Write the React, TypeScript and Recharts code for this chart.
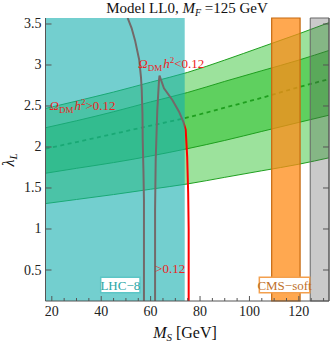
import React from 'react';
import { ComposedChart, Area, Line, XAxis, YAxis, ReferenceArea, ReferenceDot } from 'recharts';

const SERIF = '"Liberation Serif", "DejaVu Serif", serif';

// M_S grid (GeV) for the lambda_L bands
const msGrid = [17.5, 30, 45, 60, 75, 90, 105, 120, 132.5];
const outerHi = [2.47, 2.56, 2.67, 2.79, 2.91, 3.06, 3.22, 3.38, 3.52];
const innerHi = [2.235, 2.32, 2.43, 2.55, 2.665, 2.8, 2.93, 3.06, 3.18];
const central = [1.98, 2.06, 2.16, 2.26, 2.36, 2.48, 2.6, 2.73, 2.83];
const innerLo = [1.68, 1.74, 1.81, 1.89, 1.98, 2.08, 2.19, 2.3, 2.39];
const outerLo = [1.31, 1.36, 1.42, 1.485, 1.55, 1.63, 1.71, 1.79, 1.87];

// relic density contours (Omega h^2 = 0.12)
const contourAms = [50.7, 52.3, 53.7, 55.4, 56.1, 56.4, 56.7, 56.8, 57.1, 57.3, 57.3];
const contourAlam = [3.573, 3.45, 3.3, 3.06, 2.85, 2.7, 2.4, 2.09, 1.7, 1.35, 0.122];
const contourBms = [61.8, 61.8, 62.05, 62.7, 63.4, 63.6, 65.4, 68.8, 71.5, 73.2, 74.2, 74.8, 75.2, 75.4, 75.4];
const contourBlam = [0.122, 1.23, 1.84, 2.45, 2.82, 2.87, 2.716, 2.573, 2.43, 2.31, 2.21, 1.88, 1.44, 1.0, 0.122];

// excluded regions
const lhc8 = [17.45, 73.8];
const cmsSoft = [109, 120.5];
const mfLimit = [124.6, 132.2];

const xDomain = [17.45, 132.2];
const yDomain = [0.122, 3.573];
const xTicks = [20, 25, 30, 35, 40, 45, 50, 55, 60, 65, 70, 75, 80, 85, 90, 95, 100, 105, 110, 115, 120, 125, 130];
const yTicks = [0.5, 1, 1.5, 2, 2.5, 3, 3.5];

const bandData = msGrid.map((x, i) => ({
  x,
  outer: [outerLo[i], outerHi[i]],
  inner: [innerLo[i], innerHi[i]],
  mid: central[i],
}));
const contourA = contourAms.map((x, i) => ({ x, y: contourAlam[i] }));
const contourB = contourBms.map((x, i) => ({ x, y: contourBlam[i] }));

const XTick = ({ x, y, payload, top }: any) => {
  const v = payload.value;
  const major = v % 20 === 0;
  const len = major ? 5 : 3;
  return (
    <g>
      <line x1={x} x2={x} y1={y} y2={top ? y + len : y - len} stroke="#555" />
      {!top && major && (
        <text x={x} y={y + 15} textAnchor="middle" fontFamily={SERIF} fontSize={14} fill="#222">{v}</text>
      )}
    </g>
  );
};

const YTick = ({ x, y, payload, right }: any) => (
  <g>
    <line x1={x} x2={right ? x - 6 : x + 6} y1={y} y2={y} stroke="#555" />
    {!right && (
      <text x={x - 4} y={y + 4.5} textAnchor="end" fontFamily={SERIF} fontSize={14} fill="#222">{payload.value}</text>
    )}
  </g>
);

const OmegaLabel = ({ cx, cy, sign }: any) => (
  <text x={cx} y={cy} fill="#ee2222" fontFamily={SERIF} fontSize={13}>
    <tspan fontStyle="italic">Ω</tspan>
    <tspan fontSize={9} dy={3}>DM</tspan>
    <tspan fontStyle="italic" dy={-3} dx={1}>h</tspan>
    <tspan fontSize={9} dy={-5}>2</tspan>
    <tspan dy={5}>{sign}0.12</tspan>
  </text>
);

export default function App() {
  return (
    <div style={{ position: 'absolute', left: 0, top: 0, width: 332, height: 344, background: '#fff' }}>
      <ComposedChart width={332} height={344} data={bandData} margin={{ top: 18, right: 0, bottom: 13, left: 0 }}>
        <XAxis dataKey="x" type="number" domain={xDomain} allowDataOverflow ticks={xTicks} height={30}
          tickSize={0} tickMargin={0} tickLine={false} stroke="#555" tick={<XTick />} interval={0} />
        <XAxis xAxisId="top" orientation="top" type="number" domain={xDomain} allowDataOverflow ticks={xTicks} height={0}
          tickSize={0} tickMargin={0} tickLine={false} stroke="#555" tick={<XTick top />} interval={0} />
        <YAxis type="number" domain={yDomain} allowDataOverflow ticks={yTicks} width={45.5}
          tickSize={0} tickMargin={0} tickLine={false} stroke="#555" tick={<YTick />} interval={0} />
        <YAxis yAxisId="right" orientation="right" type="number" domain={yDomain} allowDataOverflow ticks={yTicks} width={3}
          tickSize={0} tickMargin={0} tickLine={false} stroke="#555" tick={<YTick right />} interval={0} />

        <Area dataKey="outer" type="monotone" fill="#00b400" fillOpacity={0.39} stroke="#1f9f1f" strokeWidth={1}
          isAnimationActive={false} zIndex={100} />
        <Area dataKey="inner" type="monotone" fill="#00b400" fillOpacity={0.39} stroke="#1f9f1f" strokeWidth={1}
          isAnimationActive={false} zIndex={101} />
        <Line dataKey="mid" type="monotone" stroke="#1f9f1f" strokeWidth={1.8} strokeDasharray="4 3.5" dot={false}
          isAnimationActive={false} zIndex={110} />
        <Line data={contourA} dataKey="y" type="linear" stroke="#ff0000" strokeWidth={2} dot={false}
          isAnimationActive={false} zIndex={120} />
        <Line data={contourB} dataKey="y" type="linear" stroke="#ff0000" strokeWidth={2} dot={false}
          isAnimationActive={false} zIndex={121} />

        <ReferenceArea x1={lhc8[0]} x2={lhc8[1]} y1={yDomain[0]} y2={yDomain[1]} fill="#16afaf" fillOpacity={0.6}
          stroke="none" ifOverflow="hidden" zIndex={200} />
        <ReferenceArea x1={lhc8[1]} x2={lhc8[1]} y1={yDomain[0]} y2={yDomain[1]} fill="none" stroke="#1a7f86" strokeWidth={1.2} zIndex={201} />
        <ReferenceArea x1={cmsSoft[0]} x2={cmsSoft[1]} y1={yDomain[0]} y2={yDomain[1]} fill="#ff8b16" fillOpacity={0.75}
          stroke="#c5680f" strokeWidth={1.2} zIndex={210} />
        <ReferenceArea x1={mfLimit[0]} x2={mfLimit[1]} y1={yDomain[0]} y2={yDomain[1]} fill="#505050" fillOpacity={0.3}
          stroke="#666" strokeWidth={1} zIndex={211} />

        <ReferenceArea x1={39.8} x2={55.7} y1={0.223} y2={0.411} fill="#fff" fillOpacity={1} stroke="#5cc6c6" strokeWidth={1.5}
          zIndex={300} label={{ value: 'LHC−8', position: 'center', fill: '#2aa6a6', fontSize: 13, fontFamily: SERIF }} />
        <ReferenceArea x1={104} x2={124.4} y1={0.223} y2={0.411} fill="#fff" fillOpacity={1} stroke="#f3a04e" strokeWidth={1.5}
          zIndex={300} label={{ value: 'CMS−soft', position: 'center', fill: '#c0702a', fontSize: 13, fontFamily: SERIF }} />

        <ReferenceDot x={19.1} y={2.45} r={0} zIndex={310} shape={(p: any) => <OmegaLabel {...p} sign=">" />} />
        <ReferenceDot x={55.0} y={2.96} r={0} zIndex={310} shape={(p: any) => <OmegaLabel {...p} sign="<" />} />
        <ReferenceDot x={61.8} y={0.46} r={0} zIndex={310}
          shape={(p: any) => <text x={p.cx} y={p.cy} fill="#ee2222" fontFamily={SERIF} fontSize={13}>{'>0.12'}</text>} />
      </ComposedChart>

      <svg width={332} height={344} style={{ position: 'absolute', left: 0, top: 0, pointerEvents: 'none' }}>
        <text x={187} y={13} textAnchor="middle" fontFamily={SERIF} fontSize={15} fill="#111">
          Model LL0, <tspan fontStyle="italic">M</tspan>
          <tspan fontStyle="italic" fontSize={10} dy={3}>F</tspan>
          <tspan dy={-3}> =125 GeV</tspan>
        </text>
        <text x={185} y={338} textAnchor="middle" fontFamily={SERIF} fontSize={16} fill="#111">
          <tspan fontStyle="italic">M</tspan>
          <tspan fontStyle="italic" fontSize={11} dy={3}>S</tspan>
          <tspan dy={-3}> [GeV]</tspan>
        </text>
        <text transform="translate(14,160) rotate(-90)" textAnchor="middle" fontFamily={SERIF} fontSize={16} fill="#111">
          <tspan fontStyle="italic">λ</tspan>
          <tspan fontStyle="italic" fontSize={11} dy={3}>L</tspan>
        </text>
      </svg>
    </div>
  );
}
